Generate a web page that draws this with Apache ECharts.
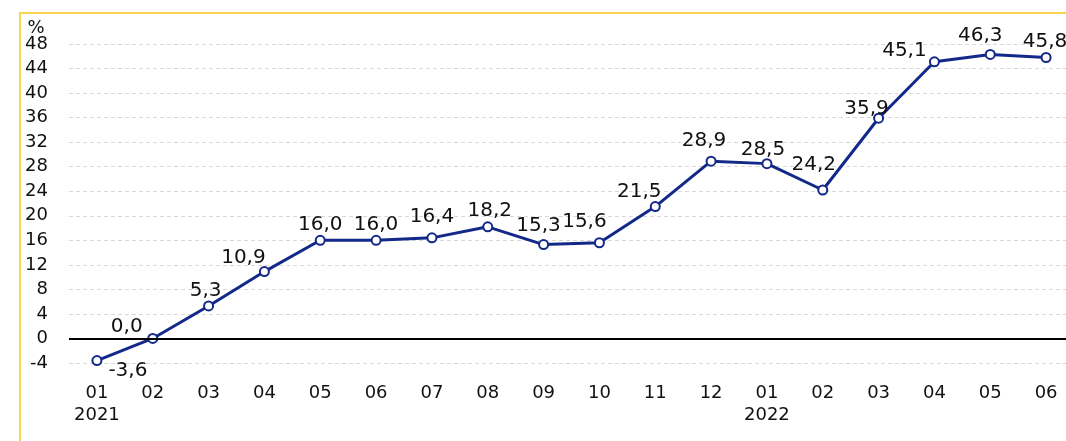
<!DOCTYPE html>
<html><head><meta charset="utf-8">
<script src="https://cdn.jsdelivr.net/npm/echarts@6/dist/echarts.min.js"></script>
<style>html,body{margin:0;padding:0;background:#fff;overflow:hidden;width:1066px;height:441px}#c{width:1074px;height:441px}</style>
</head><body><div id="c"></div>
<script>
const months = ['01\n2021','02','03','04','05','06','07','08','09','10','11','12','01\n2022','02','03','04','05','06'];
const values = [-3.6, 0.0, 5.3, 10.9, 16.0, 16.0, 16.4, 18.2, 15.3, 15.6, 21.5, 28.9, 28.5, 24.2, 35.9, 45.1, 46.3, 45.8];
const yTicks = {min: -4, max: 48, interval: 4};
const unitLabel = '%';

// label offsets (px) relative to the point centre
const labelOffsets = [[31,10],[-26,-12],[-3,-15],[-21,-14],[0,-16],[0,-16],[0,-21],[2,-16],[-5,-19],[-15,-21],[-16,-15],[-7,-20],[-4,-14],[-9,-25],[-12,-9],[-30,-11],[-10,-19],[-1,-16]];

const navy = '#13298a';
const txt = '#111';
const chart = echarts.init(document.getElementById('c'), null, {renderer: 'canvas'});
chart.setOption({
  animation: false,
  backgroundColor: '#fff',
  textStyle: {fontFamily: 'DejaVu Sans'},
  grid: {left: 69, right: 0, top: 44, bottom: 78, containLabel: false},
  graphic: [
    {type: 'rect', shape: {x: 20, y: 13, width: 1200, height: 600}, style: {fill: 'none', stroke: '#fcd34d', lineWidth: 2}, silent: true, z: 0},
    {type: 'text', x: 36, y: 28, style: {text: unitLabel, fill: txt, font: '18px "DejaVu Sans"', align: 'center', verticalAlign: 'middle'}}
  ],
  xAxis: {
    type: 'category', data: months, boundaryGap: true,
    axisLine: {show: false, onZero: false}, axisTick: {show: false},
    axisLabel: {color: txt, fontSize: 18, lineHeight: 22, margin: 19, fontFamily: 'DejaVu Sans', interval: 0}
  },
  yAxis: {
    type: 'value', min: yTicks.min, max: yTicks.max, interval: yTicks.interval,
    axisLine: {show: false}, axisTick: {show: false},
    axisLabel: {color: txt, fontSize: 18, margin: 21, fontFamily: 'DejaVu Sans'},
    splitLine: {show: true, lineStyle: {color: '#d9d9d9', type: [4, 3], width: 1}}
  },
  series: [{
    type: 'line',
    data: values.map((v, i) => ({value: v, label: {offset: labelOffsets[i]}})),
    lineStyle: {color: navy, width: 3},
    itemStyle: {color: navy, borderColor: navy, borderWidth: 3},
    symbol: 'emptyCircle', symbolSize: 9, showAllSymbol: true,
    label: {show: true, position: 'inside', color: txt, fontSize: 20, fontFamily: 'DejaVu Sans',
      formatter: p => p.value.toFixed(1).replace('.', ',')},
    markLine: {silent: true, symbol: 'none', label: {show: false},
      lineStyle: {color: '#000', width: 2, type: 'solid'}, data: [{yAxis: 0}]},
    z: 3
  }]
});
</script></body></html>
